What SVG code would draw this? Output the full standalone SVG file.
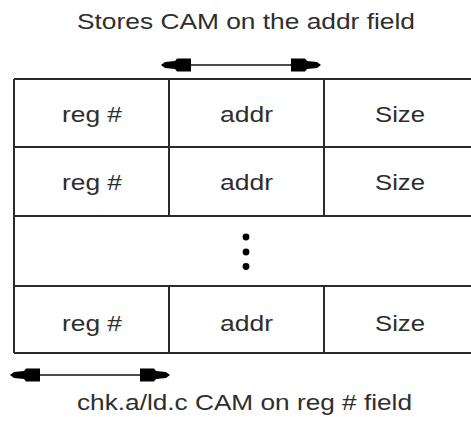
<svg xmlns="http://www.w3.org/2000/svg" width="471" height="424" viewBox="0 0 471 424">
<defs>
<style>
text{font-family:"Liberation Sans",Arial,sans-serif;font-size:21.5px;fill:#2e2e2e;text-anchor:middle}
.ln{stroke:#2b2b2b;stroke-width:2;fill:none}
.ar{stroke:#111;stroke-width:1.6;fill:none;marker-start:url(#ah);marker-end:url(#ah)}
</style>
<marker id="ah" markerUnits="userSpaceOnUse" viewBox="-31 -8 33 16" refX="0" refY="0" markerWidth="33" markerHeight="16" orient="auto-start-reverse" overflow="visible">
<path d="M1,0 L-3,-3 L-13,-4 L-15,-6.5 L-29,-6.5 L-29,6.5 L-15,6.5 L-13,4 L-3,3 Z" fill="#000"/>
</marker>
</defs>
<rect width="471" height="424" fill="#fff"/>
<g id="title"><text x="246" y="29" textLength="338" lengthAdjust="spacingAndGlyphs">Stores CAM on the addr field</text></g>
<g id="table">
<path class="ln" d="M14,79 H471 M14,147 H471 M14,216 H471 M14,286 H471 M14,353 H471 M14,79 V353 M169,79 V216 M324,79 V216 M169,286 V353 M324,286 V353"/>
</g>
<g id="row1">
<text x="92" y="122" textLength="60" lengthAdjust="spacingAndGlyphs">reg #</text>
<text x="246.5" y="122" textLength="53" lengthAdjust="spacingAndGlyphs">addr</text>
<text x="400" y="122" textLength="50" lengthAdjust="spacingAndGlyphs">Size</text>
</g>
<g id="row2">
<text x="92" y="190" textLength="60" lengthAdjust="spacingAndGlyphs">reg #</text>
<text x="246.5" y="190" textLength="53" lengthAdjust="spacingAndGlyphs">addr</text>
<text x="400" y="190" textLength="50" lengthAdjust="spacingAndGlyphs">Size</text>
</g>
<g id="ellipsis" fill="#000">
<circle cx="246" cy="237" r="3.4"/>
<circle cx="246" cy="252" r="3.4"/>
<circle cx="246" cy="266.5" r="3.4"/>
</g>
<g id="row4">
<text x="92" y="331" textLength="60" lengthAdjust="spacingAndGlyphs">reg #</text>
<text x="246.5" y="331" textLength="53" lengthAdjust="spacingAndGlyphs">addr</text>
<text x="400" y="331" textLength="50" lengthAdjust="spacingAndGlyphs">Size</text>
</g>
<g id="connectors">
<line class="ar" x1="162" y1="65" x2="320" y2="65"/>
<line class="ar" x1="11" y1="375" x2="169" y2="375"/>
</g>
<g id="caption"><text x="244.5" y="410" textLength="335" lengthAdjust="spacingAndGlyphs">chk.a/ld.c CAM on reg # field</text></g>
</svg>
